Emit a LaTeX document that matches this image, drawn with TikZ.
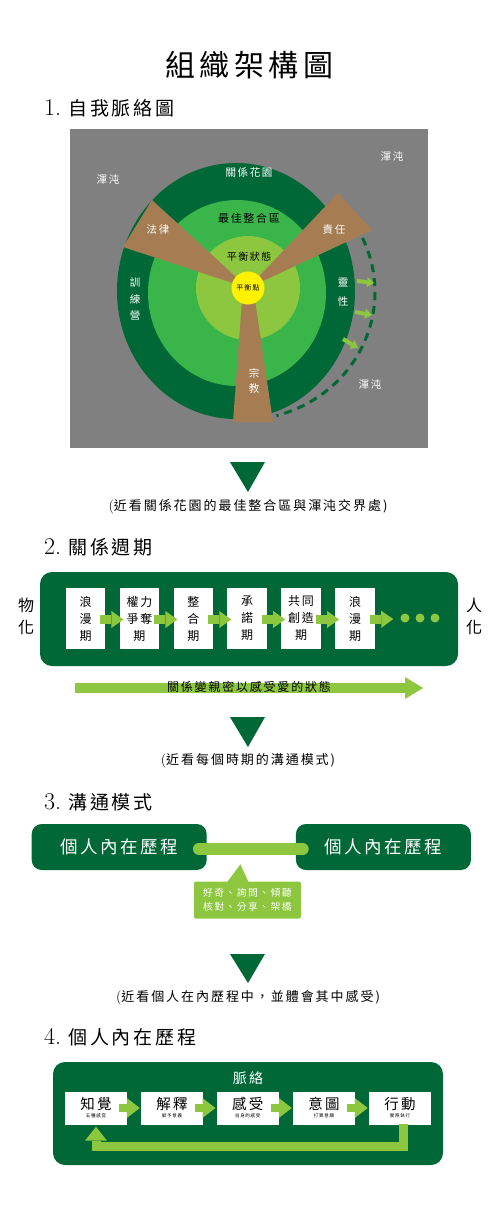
\documentclass[tikz,border=0pt]{standalone}
\usepackage{fontspec}
\usepackage{xcolor}
\usepackage{tikz}
\usetikzlibrary{calc,arrows.meta}
\newfontfamily\cjk[LetterSpace=15]{Noto Sans CJK TC}
\newcommand{\cjksize}[1]{\cjk\fontsize{#1}{#1}\selectfont}
\definecolor{OrgDarkGreen}{RGB}{0, 104, 55}
\definecolor{OrgMidGreen}{RGB}{57, 181, 74}
\definecolor{OrgLightGreen}{RGB}{141, 198, 63}
\definecolor{OrgYellow}{RGB}{255, 242, 0}
\definecolor{OrgBrown}{RGB}{166, 124, 82}
\definecolor{OrgGray}{RGB}{128, 128, 128}

\begin{document}
\begin{tikzpicture}[x=1pt, y=-1pt,
        sechead/.style={anchor=west, inner sep=0pt, font=\fontsize{24}{24}\selectfont},
        seccap/.style={inner sep=0pt, font=\fontsize{14}{14}\selectfont},
        ringtext/.style={inner sep=0pt, text=white, align=center, font=\cjksize{10.5}},
        stagebox/.style={fill=white, minimum width=39.5pt, minimum height=61pt, inner sep=0pt, align=center, font=\cjk\fontsize{12}{17}\selectfont},
        stagearrow/.style={draw=OrgLightGreen, line width=9pt, -{Triangle[length=12pt, width=17pt, line width=0pt]}},
        procbox/.style={fill=OrgDarkGreen, rounded corners=10pt, minimum width=175pt, minimum height=46pt, text=white, font=\cjksize{17.5}},
        stepbox/.style={fill=white, minimum width=62pt, minimum height=33pt, inner sep=0pt, text height=12pt, text depth=8.4pt, font=\cjksize{14.5}},
        stepnote/.style={inner sep=0pt, font=\cjksize{4.5}},
        steparrow/.style={draw=OrgLightGreen, line width=8pt, -{Triangle[length=13pt, width=20pt, line width=0pt]}}
    ]
        \useasboundingbox (0,0) rectangle (499,1229);

        % Title and first heading
        \node[inner sep=0pt, font=\cjksize{30}] (title) at (249,65) {組織架構圖};
        \node[sechead] (sec1) at (44,108) {1.\hspace{7pt}{\cjksize{19}自我脈絡圖}};

        % Self context map
        \fill[OrgGray] (70,129) rectangle (428,448);
        \coordinate (ring) at (236,291);
        \coordinate (core) at (248,288);
        \fill[OrgDarkGreen] (ring) ellipse [x radius=119pt, y radius=128pt];
        \fill[OrgMidGreen] (237,293) ellipse [x radius=89pt, y radius=93pt];
        \fill[OrgLightGreen] (core) circle [radius=52pt];
        \fill[OrgBrown] (core) -- (152,200) -- (123,247) -- cycle;
        \fill[OrgBrown] (core) -- (338,193) -- (372,230) -- cycle;
        \fill[OrgBrown] (242,300) -- (255,300) -- (273,422) -- (233,422) -- cycle;
        \node[circle, fill=OrgYellow, minimum size=33pt, inner sep=0pt, font=\cjksize{7}] (balance) at (core) {平衡點};

        % Edge towards chaos
        \draw[OrgDarkGreen, line width=3pt, dash pattern=on 8pt off 6pt] (362.5,237.9) arc[start angle=25, end angle=-75, x radius=133pt, y radius=128pt];
        \draw[OrgLightGreen, line width=4pt, -{Triangle[length=7pt, width=10pt, line width=0pt]}] (357,281) -- (374,283);
        \draw[OrgLightGreen, line width=4pt, -{Triangle[length=7pt, width=10pt, line width=0pt]}] (355,312) -- (372,315);
        \draw[OrgLightGreen, line width=4pt, -{Triangle[length=7pt, width=10pt, line width=0pt]}] (343,339) -- (358,348);

        \node[ringtext] (chaosA) at (108,180) {渾沌};
        \node[ringtext] (chaosB) at (392,157) {渾沌};
        \node[ringtext] (chaosC) at (370,385) {渾沌};
        \node[ringtext] (garden) at (249,172) {關係花園};
        \node[ringtext, text=black, font=\cjksize{11}] (optimal) at (249,218) {最佳整合區};
        \node[ringtext, text=black, font=\cjksize{10}] (steady) at (249,257) {平衡狀態};
        \node[ringtext] (law) at (158,230) {法律};
        \node[ringtext] (duty) at (334,230) {責任};
        \node[ringtext, font=\cjk\fontsize{10.5}{16.5}\selectfont] (camp) at (135,299) {訓\\練\\營};
        \node[ringtext, font=\cjk\fontsize{10.5}{18.5}\selectfont] (spirit) at (343,292) {靈\\性};
        \node[ringtext, font=\cjk\fontsize{10.5}{15}\selectfont] (faith) at (254,381) {宗\\教};

        \fill[OrgDarkGreen] (230,462) -- (265,462) -- (248,492) -- cycle;
        \node[seccap] (cap1) at (248,507) {(\cjksize{13}近看關係花園的最佳整合區與渾沌交界處)};

        % Relationship cycle
        \node[sechead] (sec2) at (44,547) {2.\hspace{7pt}{\cjksize{19}關係週期}};
        \fill[OrgDarkGreen, rounded corners=12pt] (40,572) rectangle (458,666);
        \node[inner sep=0pt, align=center, font=\cjk\fontsize{16}{22}\selectfont] (objectify) at (26,616) {物\\化};
        \node[inner sep=0pt, align=center, font=\cjk\fontsize{16}{22}\selectfont] (humanize) at (474,616) {人\\化};

        \node[stagebox] (romance) at (85.5,618.5) {浪\\漫\\期};
        \node[stagebox] (power) at (139.4,618.5) {權力\\爭奪\\期};
        \node[stagebox] (merge) at (193.3,618.5) {整\\合\\期};
        \node[stagebox] (promise) at (247.2,618.5) {承\\諾\\期};
        \node[stagebox] (create) at (301.1,618.5) {共同\\創造\\期};
        \node[stagebox] (romanceB) at (355,618.5) {浪\\漫\\期};
        \node[circle, fill=OrgLightGreen, minimum size=9pt, inner sep=0pt] (dotA) at (405,618) {};
        \node[circle, fill=OrgLightGreen, minimum size=9pt, inner sep=0pt] (dotB) at (420,618) {};
        \node[circle, fill=OrgLightGreen, minimum size=9pt, inner sep=0pt] (dotC) at (435,618) {};

        \draw[stagearrow] ($(romance.east)+(-5,1)$) -- ($(power.west)+(4,1)$);
        \draw[stagearrow] ($(power.east)+(-5,1)$) -- ($(merge.west)+(4,1)$);
        \draw[stagearrow] ($(merge.east)+(-5,1)$) -- ($(promise.west)+(4,1)$);
        \draw[stagearrow] ($(promise.east)+(-5,1)$) -- ($(create.west)+(4,1)$);
        \draw[stagearrow] ($(create.east)+(-5,1)$) -- ($(romanceB.west)+(4,1)$);
        \draw[stagearrow] ($(romanceB.east)+(-5,1)$) -- ($(dotA.west)+(-7,1)$);

        \coordinate (trendstart) at (75,688);
        \coordinate (trendend) at (423,688);
        \draw[OrgLightGreen, line width=10pt, -{Triangle[length=18pt, width=22pt, line width=0pt]}] (trendstart) -- (trendend)
            node[midway, yshift=1pt, text=black, inner sep=0pt, font=\cjksize{12}] (trendlabel) {關係變親密以感受愛的狀態};

        \fill[OrgDarkGreen] (230,717) -- (265,717) -- (248,747) -- cycle;
        \node[seccap] (cap2) at (248,761) {(\cjksize{13}近看每個時期的溝通模式)};

        % Communication pattern
        \node[sechead] (sec3) at (44,802) {3.\hspace{7pt}{\cjksize{19}溝通模式}};
        \node[procbox] (procA) at (119.2,847) {個人內在歷程};
        \node[procbox] (procB) at (383.4,847) {個人內在歷程};
        \draw[OrgLightGreen, line width=12pt, line cap=round] ($(procA.east)+(-8,2)$) -- ($(procB.west)+(7,2)$);
        \node[fill=OrgLightGreen, rounded corners=1.5pt, minimum width=107pt, minimum height=37pt, inner sep=0pt, align=center, text=white, font=\cjk\fontsize{9.8}{14}\selectfont] (bubble) at (247.4,900) {好奇、詢問、傾聽\\核對、分享、架橋};
        \fill[OrgLightGreen] ($(bubble.north)+(-20,0.5)$) -- ($(bubble.north)+(-7,-17)$) -- ($(bubble.north)+(1,0.5)$) -- cycle;

        \fill[OrgDarkGreen] (230,954) -- (265,954) -- (248,983) -- cycle;
        \node[seccap] (cap3) at (248,998) {(\cjksize{13}近看個人在內歷程中，並體會其中感受)};

        % Personal inner process
        \node[sechead] (sec4) at (44,1037) {4.\hspace{7pt}{\cjksize{19}個人內在歷程}};
        \fill[OrgDarkGreen, rounded corners=12pt] (53,1062) rectangle (443,1165);
        \node[inner sep=0pt, text=white, font=\cjksize{14}] (context) at (248,1078) {脈絡};

        \node[stepbox] (perceive) at (96,1108) {知覺};
        \node[stepbox] (interpret) at (172,1108) {解釋};
        \node[stepbox] (feel) at (247.7,1108) {感受};
        \node[stepbox] (intend) at (324,1108) {意圖};
        \node[stepbox] (act) at (400,1108) {行動};
        \node[stepnote] (perceiveNote) at ($(perceive)+(0,8)$) {五種感官};
        \node[stepnote] (interpretNote) at ($(interpret)+(0,8)$) {賦予意義};
        \node[stepnote] (feelNote) at ($(feel)+(0,8)$) {自身的感受};
        \node[stepnote] (intendNote) at ($(intend)+(0,8)$) {打算意願};
        \node[stepnote] (actNote) at ($(act)+(0,8)$) {實際執行};

        \draw[steparrow] ($(perceive.east)+(-8,0)$) -- ($(interpret.west)+(-1,0)$);
        \draw[steparrow] ($(interpret.east)+(-8,0)$) -- ($(feel.west)+(-1,0)$);
        \draw[steparrow] ($(feel.east)+(-8,0)$) -- ($(intend.west)+(-1,0)$);
        \draw[steparrow] ($(intend.east)+(-8,0)$) -- ($(act.west)+(-1,0)$);
        \draw[OrgLightGreen, line width=9pt, -{Triangle[length=14pt, width=22pt, line width=0pt]}] ($(act.south)+(3,-1)$) -- ++(0,23) -| ($(perceive.south)+(0,2)$);
    \end{tikzpicture}
\end{document}
